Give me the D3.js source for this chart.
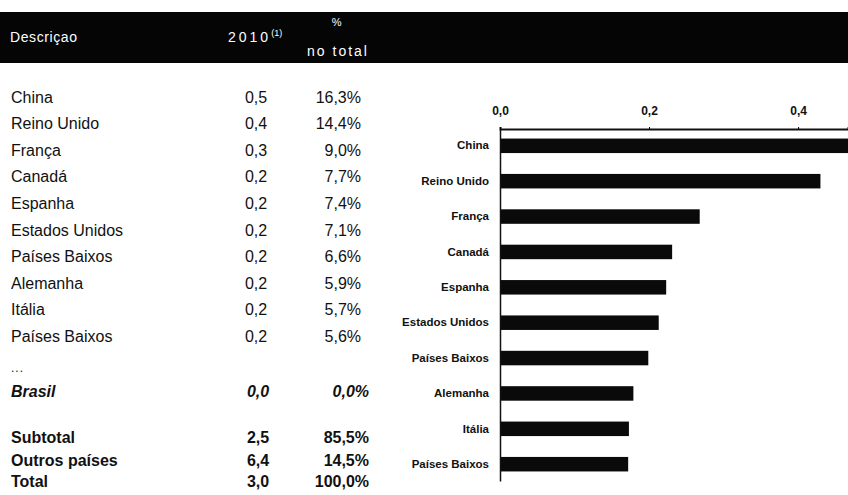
<!DOCTYPE html>
<html>
<head>
<meta charset="utf-8">
<script src="https://cdn.jsdelivr.net/npm/d3@7"></script>
<style>
  body { margin: 0; background: #fff; }
  svg { display: block; font-family: "Liberation Sans", Arial, sans-serif; }
</style>
</head>
<body>
<svg id="chart"></svg>
<script>
// table + chart values
const countries = ["China", "Reino Unido", "França", "Canadá", "Espanha", "Estados Unidos",
    "Países Baixos", "Alemanha", "Itália", "Países Baixos"];
const values2010 = ["0,5", "0,4", "0,3", "0,2", "0,2", "0,2", "0,2", "0,2", "0,2", "0,2"];
const shares = ["16,3%", "14,4%", "9,0%", "7,7%", "7,4%", "7,1%", "6,6%", "5,9%", "5,7%", "5,6%"];

const summaryNames = ["Brasil", "Subtotal", "Outros países", "Total"];
const summaryValues = ["0,0", "2,5", "6,4", "3,0"];
const summaryShares = ["0,0%", "85,5%", "14,5%", "100,0%"];

// bar lengths (billions) as drawn in the chart
const barValues = [0.487, 0.430, 0.268, 0.231, 0.223, 0.213, 0.199, 0.179, 0.173, 0.172];
const xTicks = [0, 0.2, 0.4];

class tableChart {
    constructor(_config) {
        this.config = {
            parentElement: _config.parentElement,
            width: _config.width || 848,
            height: _config.height || 495
        };
        this.initVis();
    }

    initVis() {
        let vis = this;

        vis.svg = d3.select(vis.config.parentElement)
            .attr('width', vis.config.width)
            .attr('height', vis.config.height);

        // header band
        vis.svg.append('rect')
            .attr('x', 0).attr('y', 12)
            .attr('width', vis.config.width).attr('height', 51)
            .attr('fill', '#050505');

        const header = vis.svg.append('g')
            .attr('fill', '#fff')
            .style('font-size', '14px')
            .style('letter-spacing', '0.6px');

        header.append('text').attr('x', 10).attr('y', 42).text('Descriçao');

        const yr = header.append('text').attr('x', 228).attr('y', 42)
            .style('letter-spacing', '3px');
        yr.append('tspan').text('2010');
        yr.append('tspan').attr('dy', -6).style('font-size', '9px')
            .style('letter-spacing', '0px').text('(1)');

        header.append('text').attr('x', 337).attr('y', 26)
            .attr('text-anchor', 'middle').style('font-size', '11px').text('%');
        header.append('text').attr('x', 338).attr('y', 56)
            .attr('text-anchor', 'middle').style('letter-spacing', '2px').text('no total');

        // table rows
        vis.rowY = d3.scalePoint()
            .domain(d3.range(countries.length))
            .range([97, 336]);

        const rows = vis.svg.append('g').style('font-size', '16px').attr('fill', '#111');

        const row = rows.selectAll('g.row')
            .data(countries)
            .enter()
            .append('g')
            .attr('class', 'row')
            .attr('transform', (d, i) => `translate(0,${vis.rowY(i)})`);

        row.append('text').attr('x', 11).attr('dy', '0.36em').text(d => d);
        row.append('text').attr('x', 256).attr('dy', '0.36em')
            .attr('text-anchor', 'middle').text((d, i) => values2010[i]);
        row.append('text').attr('x', 361).attr('dy', '0.36em')
            .attr('text-anchor', 'end').text((d, i) => shares[i]);

        rows.append('text').attr('x', 11).attr('y', 368).attr('dy', '0.36em')
            .style('font-size', '12px').style('letter-spacing', '1px').text('...');

        const summaryY = [391, 437, 460, 481];
        const sum = rows.selectAll('g.sum')
            .data(summaryNames)
            .enter()
            .append('g')
            .attr('class', 'sum')
            .attr('transform', (d, i) => `translate(0,${summaryY[i]})`)
            .style('font-weight', 'bold')
            .style('font-style', (d, i) => i === 0 ? 'italic' : 'normal');

        sum.append('text').attr('x', 11).attr('dy', '0.36em').text(d => d);
        sum.append('text').attr('x', 258).attr('dy', '0.36em')
            .attr('text-anchor', 'middle').text((d, i) => summaryValues[i]);
        sum.append('text').attr('x', 369).attr('dy', '0.36em')
            .attr('text-anchor', 'end').text((d, i) => summaryShares[i]);

        // bar chart
        vis.xScale = d3.scaleLinear()
            .domain([0, 0.467])
            .range([500, 848]);

        vis.yScale = d3.scaleBand()
            .domain(d3.range(barValues.length))
            .range([129, 481])
            .paddingInner(0.59)
            .paddingOuter(0.27);

        vis.chart = vis.svg.append('g');

        vis.chart.selectAll('rect.bar')
            .data(barValues)
            .enter()
            .append('rect')
            .attr('class', 'bar')
            .attr('x', vis.xScale(0))
            .attr('y', (d, i) => vis.yScale(i))
            .attr('width', d => vis.xScale(d) - vis.xScale(0))
            .attr('height', vis.yScale.bandwidth())
            .attr('fill', '#0a0a0a');

        vis.xAxis = d3.axisTop(vis.xScale)
            .tickValues(xTicks)
            .tickSize(2)
            .tickPadding(12)
            .tickFormat(d => d3.format('.1f')(d).replace('.', ','));

        vis.yAxis = d3.axisLeft(vis.yScale)
            .tickSize(0)
            .tickPadding(11)
            .tickFormat(i => countries[i]);

        vis.xAxisG = vis.chart.append('g')
            .attr('transform', `translate(0,129)`)
            .call(vis.xAxis);

        vis.yAxisG = vis.chart.append('g')
            .attr('transform', `translate(500,0)`)
            .call(vis.yAxis);

        vis.xAxisG.select('.domain').attr('stroke-width', 2).attr('stroke', '#111');
        vis.yAxisG.select('.domain').attr('stroke-width', 1.5).attr('stroke', '#111');

        vis.svg.selectAll('.tick text')
            .attr('fill', '#111')
            .style('font-family', '"Liberation Sans", Arial, sans-serif')
            .style('font-weight', 'bold');
        vis.xAxisG.selectAll('.tick text').style('font-size', '12px');
        vis.yAxisG.selectAll('.tick text').style('font-size', '11.5px');
    }
};

new tableChart({ parentElement: '#chart' });
</script>
</body>
</html>
